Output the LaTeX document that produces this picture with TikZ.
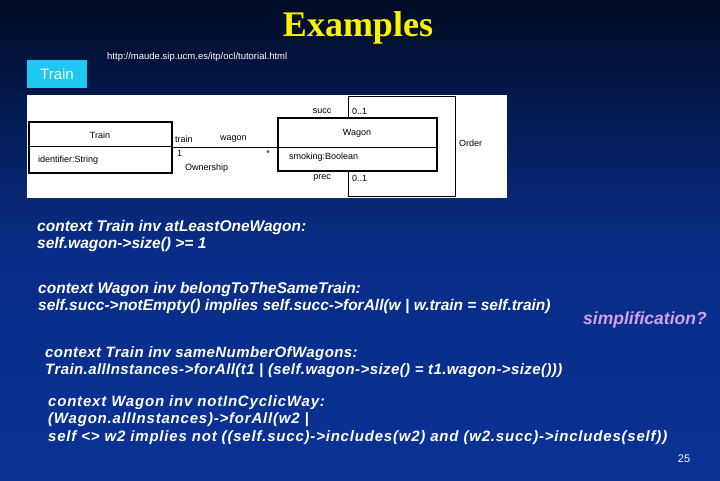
\documentclass[tikz,border=0pt]{standalone}
\usepackage{fontspec}
\setmainfont{Liberation Sans}
\newfontfamily\timesf{Liberation Serif}
\newfontfamily\lsA[LetterSpace=2.8]{Liberation Sans}
\newfontfamily\lsB[LetterSpace=5.3]{Liberation Sans}
\definecolor{bgtop}{HTML}{000C24}
\definecolor{bgbot}{HTML}{0A3296}
\definecolor{cyanbox}{HTML}{1EC8F0}
\definecolor{lilac}{HTML}{D8A0F0}
\begin{document}
\begin{tikzpicture}[x=1pt,y=-1pt,
  code/.style={anchor=north west,inner sep=0pt,text=white,font=\fontsize{14}{17.5}\selectfont\bfseries\itshape,align=left},
  uml/.style={inner sep=0pt,font=\fontsize{9}{10}\selectfont},
  cls/.style={draw=black,line width=1.2pt,fill=white}]
\useasboundingbox (0,0) rectangle (720,480);
\shade[top color=bgtop,bottom color=bgbot,middle color=bgbot!85!bgtop] (0,0) rectangle (720,480);
\node[inner sep=0pt,text=yellow,font=\timesf\fontsize{36}{38}\selectfont\bfseries] (title) at (358,28) {Examples};
\node[inner sep=0pt,anchor=west,text=white,font=\fontsize{9.5}{11}\selectfont] (url) at (107,57) {http://maude.sip.ucm.es/itp/ocl/tutorial.html};
\node[fill=cyanbox,text=white,minimum width=60,minimum height=28,inner sep=0pt,font=\fontsize{15}{17}\selectfont] (trainbtn) at (57,74) {Train};
% UML diagram
\node[fill=white,minimum width=480,minimum height=103,inner sep=0pt,anchor=north west] (diag) at (27,95) {};
\draw[line width=1pt] (348,96) rectangle (455,196);
\draw[cls] (29,122) rectangle (172,173);
\draw[line width=0.8pt] (29,146) -- (172,146);
\draw[cls] (278,118) rectangle (437,171);
\draw[line width=0.8pt] (278,147) -- (437,147);
\coordinate (ta) at (172,147);
\coordinate (wa) at (278,147);
\draw[line width=0.8pt] (ta) -- (wa);
\node[uml] (tname) at (100,135) {Train};
\node[uml,anchor=west] (tattr) at (38,160) {identifier:String};
\node[uml] (wname) at (357,133) {Wagon};
\node[uml,anchor=west] (wattr) at (289,157) {smoking:Boolean};
\node[uml] (succ) at (322,111) {succ};
\node[uml,anchor=west] (m1) at (352,111) {0..1};
\node[uml] (prec) at (322,178) {prec};
\node[uml,anchor=west] (m2) at (352,178) {0..1};
\node[uml,anchor=west] (rtrain) at (175,139) {train};
\node[uml,anchor=west] (rwagon) at (220,139) {wagon};
\node[uml,anchor=west] (one) at (177,153) {1};
\node[uml] (star) at (268,153) {*};
\node[uml,anchor=west] (own) at (185,168) {Ownership};
\node[uml,anchor=west] (order) at (459,143) {Order};
% constraints
\node[code,font=\fontsize{15.5}{17.5}\selectfont\bfseries\itshape] (c1) at (37,220) {context Train inv atLeastOneWagon:\\self.wagon->size() >= 1};
\node[code,font=\fontsize{15.5}{17.5}\selectfont\bfseries\itshape] (c2) at (38,282) {context Wagon inv belongToTheSameTrain:\\self.succ->notEmpty() implies self.succ->forAll(w | w.train = self.train)};
\node[code,text=lilac,font=\fontsize{17.5}{20}\selectfont\bfseries\itshape] (simp) at (583,312) {simplification?};
\node[code,font=\lsA\fontsize{15}{17.5}\selectfont\bfseries\itshape] (c3) at (45,346) {context Train inv sameNumberOfWagons:\\Train.allInstances->forAll(t1 | (self.wagon->size() = t1.wagon->size()))};
\node[code,font=\lsB\fontsize{15}{17.5}\selectfont\bfseries\itshape] (c4) at (48,395) {context Wagon inv notInCyclicWay:\\(Wagon.allInstances)->forAll(w2 |\\self <> w2 implies not ((self.succ)->includes(w2) and (w2.succ)->includes(self))};
\node[inner sep=0pt,text=white,font=\fontsize{11}{12}\selectfont] (pg) at (684,459) {25};
\end{tikzpicture}
\end{document}
